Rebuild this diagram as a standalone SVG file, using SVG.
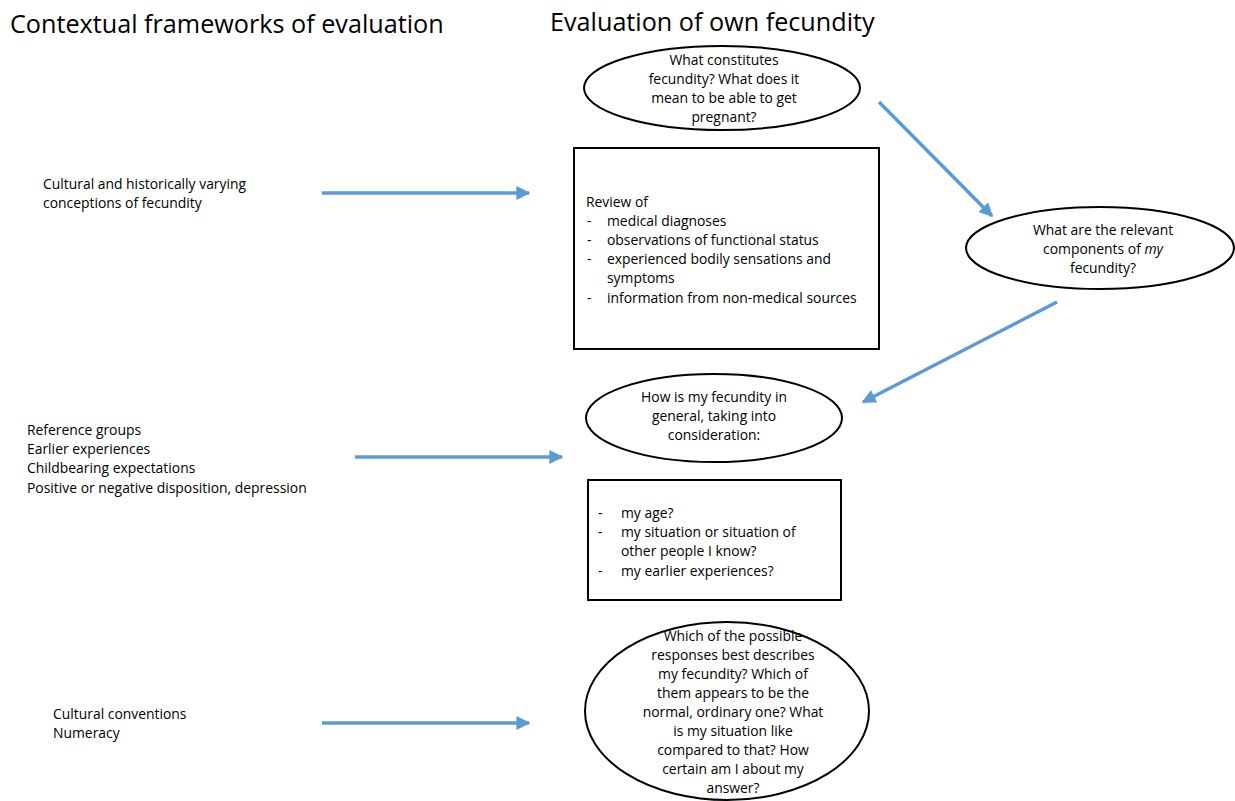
<svg xmlns="http://www.w3.org/2000/svg" width="1235" height="801" viewBox="0 0 1235 801">
<style>
.t{font-family:"Open Sans","Liberation Sans",sans-serif;font-size:13.9px;fill:#000}
.c{text-anchor:middle}
.h{font-family:"Open Sans","Liberation Sans",sans-serif;font-size:25.2px;fill:#000}
.n{fill:#fff;stroke:#000;stroke-width:2}
.a{stroke:#5b9bd5;stroke-width:3.5;fill:none;marker-end:url(#ah)}
</style>
<defs>
<marker id="ah" viewBox="0 0 10 10" refX="9" refY="5" markerWidth="4" markerHeight="4" orient="auto" markerUnits="strokeWidth">
<path d="M0,0 L10,5 L0,10 z" fill="#5b9bd5"/>
</marker>
</defs>
<rect width="1235" height="801" fill="#fff"/>
<text class="h" x="10" y="33">Contextual frameworks of evaluation</text>
<text class="h" x="550" y="31">Evaluation of own fecundity</text>

<g id="connectors">
<line class="a" x1="322" y1="193" x2="529" y2="193"/>
<line class="a" x1="355" y1="457" x2="562" y2="457"/>
<line class="a" x1="322" y1="723" x2="529" y2="723"/>
<line class="a" x1="879" y1="102" x2="992" y2="216"/>
<line class="a" x1="1057" y1="302" x2="863" y2="402"/>
</g>

<g id="ctx1">
<text class="t" x="43" y="189">Cultural and historically varying</text>
<text class="t" x="43" y="208">conceptions of fecundity</text>
</g>
<g id="ctx2">
<text class="t" x="27" y="435">Reference groups</text>
<text class="t" x="27" y="454">Earlier experiences</text>
<text class="t" x="27" y="473">Childbearing expectations</text>
<text class="t" x="27" y="493">Positive or negative disposition, depression</text>
</g>
<g id="ctx3">
<text class="t" x="53" y="719">Cultural conventions</text>
<text class="t" x="53" y="738">Numeracy</text>
</g>

<g id="q1">
<ellipse class="n" cx="722" cy="88" rx="138" ry="42"/>
<text class="t c" x="724" y="65">What constitutes</text>
<text class="t c" x="724" y="84">fecundity? What does it</text>
<text class="t c" x="724" y="103">mean to be able to get</text>
<text class="t c" x="724" y="122">pregnant?</text>
</g>

<g id="review">
<rect class="n" x="574" y="148" width="305" height="201"/>
<text class="t" x="586" y="207">Review of</text>
<text class="t" x="587" y="226">-</text><text class="t" x="607" y="226">medical diagnoses</text>
<text class="t" x="587" y="245">-</text><text class="t" x="607" y="245">observations of functional status</text>
<text class="t" x="587" y="264">-</text><text class="t" x="607" y="264">experienced bodily sensations and</text>
<text class="t" x="607" y="283">symptoms</text>
<text class="t" x="587" y="303">-</text><text class="t" x="607" y="303">information from non-medical sources</text>
</g>

<g id="q2">
<ellipse class="n" cx="1100" cy="248" rx="134" ry="41"/>
<text class="t c" x="1103" y="235">What are the relevant</text>
<text class="t c" x="1103" y="254">components of <tspan font-style="italic">my</tspan></text>
<text class="t c" x="1103" y="273">fecundity?</text>
</g>

<g id="q3">
<ellipse class="n" cx="714" cy="418" rx="128" ry="44"/>
<text class="t c" x="714" y="402">How is my fecundity in</text>
<text class="t c" x="714" y="421">general, taking into</text>
<text class="t c" x="714" y="440">consideration:</text>
</g>

<g id="considerations">
<rect class="n" x="588" y="480" width="253" height="120"/>
<text class="t" x="598" y="518">-</text><text class="t" x="621" y="518">my age?</text>
<text class="t" x="598" y="537">-</text><text class="t" x="621" y="537">my situation or situation of</text>
<text class="t" x="621" y="556">other people I know?</text>
<text class="t" x="598" y="576">-</text><text class="t" x="621" y="576">my earlier experiences?</text>
</g>

<g id="q4">
<ellipse class="n" cx="727" cy="711" rx="142" ry="89"/>
<text class="t c" x="733" y="641">Which of the possible</text>
<text class="t c" x="733" y="660">responses best describes</text>
<text class="t c" x="733" y="679">my fecundity? Which of</text>
<text class="t c" x="733" y="698">them appears to be the</text>
<text class="t c" x="733" y="717">normal, ordinary one? What</text>
<text class="t c" x="733" y="736">is my situation like</text>
<text class="t c" x="733" y="755">compared to that? How</text>
<text class="t c" x="733" y="774">certain am I about my</text>
<text class="t c" x="733" y="793">answer?</text>
</g>
</svg>
